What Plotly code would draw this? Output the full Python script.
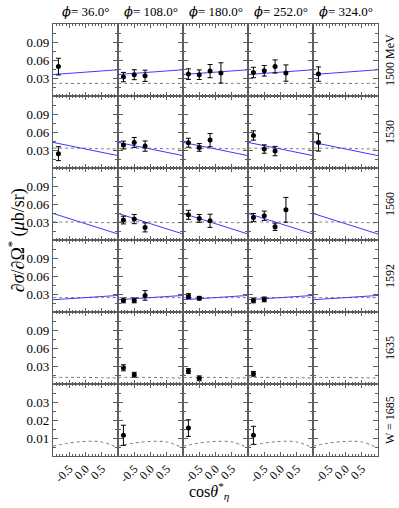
import plotly.graph_objects as go
from plotly.subplots import make_subplots

# --- data ---
phi_deg = [36.0, 108.0, 180.0, 252.0, 324.0]
row_labels = ["1500 MeV", "1530", "1560", "1592", "1635", "W = 1685"]
cos_bins = [-0.833, -0.5, -0.167, 0.167]

# measured cross sections per row, one list per phi column
sig_1500 = [[0.049], [0.0315, 0.0355, 0.0337], [0.0365, 0.0355, 0.0415, 0.0385],
            [0.0392, 0.042, 0.0492, 0.0382], [0.0365]]
err_1500 = [[0.0139], [0.0078, 0.0083, 0.0094], [0.0088, 0.008, 0.011, 0.0169],
            [0.0087, 0.0088, 0.011, 0.0136], [0.012]]
sig_1530 = [[0.0239], [0.0382, 0.0426, 0.0365], [0.0421, 0.0343, 0.0465],
            [0.0542, 0.0316, 0.0282], [0.0426]]
err_1530 = [[0.0116], [0.0066, 0.0083, 0.0086], [0.0075, 0.0064, 0.011],
            [0.0078, 0.007, 0.0078], [0.0144]]
sig_1560 = [[], [0.0332, 0.0349, 0.021], [0.042, 0.036, 0.032],
            [0.0376, 0.0404, 0.022, 0.0503], []]
err_1560 = [[], [0.0064, 0.0077, 0.0075], [0.0075, 0.0065, 0.011],
            [0.0066, 0.0077, 0.006, 0.0207], []]
sig_1592 = [[], [0.0193, 0.0193, 0.0276], [0.0265, 0.023], [0.0193, 0.021], []]
err_1592 = [[], [0.004, 0.004, 0.008], [0.004, 0.003], [0.004, 0.004], []]
sig_1635 = [[], [0.027, 0.0155], [0.0216, 0.0095], [0.017], []]
err_1635 = [[], [0.005, 0.004], [0.004, 0.004], [0.004], []]
sig_1685 = [[], [0.0115], [0.0155], [0.0115], []]
err_1685 = [[], [0.0056], [0.0046], [0.005], []]

sig_rows = [sig_1500, sig_1530, sig_1560, sig_1592, sig_1635, sig_1685]
err_rows = [err_1500, err_1530, err_1560, err_1592, err_1635, err_1685]

# model curves (same in every phi column)
blue_cos = [-1.0, 1.0]
blue_rows = [[0.0358, 0.0437], [0.0427, 0.0206], [0.0443, 0.010], [0.0204, 0.0276], None, None]
dash_cos = [-1.0, -0.5, 0.0, 0.5, 1.0]
dash_rows = [
    [0.021, 0.021, 0.021, 0.021, 0.021],
    [0.033, 0.033, 0.033, 0.032, 0.032],
    [0.030, 0.030, 0.030, 0.029, 0.029],
    [0.024, 0.024, 0.024, 0.024, 0.024],
    [0.011, 0.011, 0.011, 0.0105, 0.010],
    [0.0055, 0.0072, 0.0081, 0.0078, 0.0045],
]

serif = "Liberation Serif, Times New Roman, serif"
frame_col = "#5e5e5e"

fig = make_subplots(rows=6, cols=5, horizontal_spacing=0, vertical_spacing=0)

for r in range(6):
    for c in range(5):
        fig.add_trace(go.Scatter(x=dash_cos, y=dash_rows[r], mode="lines",
                                 line=dict(color="#777777", width=1, dash="3px,3px",
                                           shape="spline"),
                                 hoverinfo="skip", showlegend=False), row=r + 1, col=c + 1)
        if blue_rows[r] is not None:
            fig.add_trace(go.Scatter(x=blue_cos, y=blue_rows[r], mode="lines",
                                     line=dict(color="#3a3aff", width=1),
                                     showlegend=False), row=r + 1, col=c + 1)
        vals = sig_rows[r][c]
        if vals:
            fig.add_trace(go.Scatter(
                x=cos_bins[:len(vals)], y=vals, mode="markers",
                marker=dict(color="black", size=5),
                error_y=dict(type="data", array=err_rows[r][c], color="black",
                             thickness=1, width=2.5),
                showlegend=False), row=r + 1, col=c + 1)

        last = r == 5
        fig.update_xaxes(
            range=[-1, 1], showgrid=False, zeroline=False, automargin=False,
            showline=True, linecolor=frame_col, linewidth=1.2, mirror="allticks",
            ticks="inside", ticklen=4, tickcolor=frame_col,
            tickvals=[-0.5, 0.0, 0.5], ticktext=["-0.5", "0.0", "0.5"],
            minor=dict(tick0=-1, dtick=0.1, ticks="inside", ticklen=2, tickcolor=frame_col),
            showticklabels=last, tickangle=-45,
            tickfont=dict(family=serif, size=12, color="black"),
            row=r + 1, col=c + 1)
        if last:
            yr, yt, ym = [0, 0.04], [0.01, 0.02, 0.03], 0.005
        else:
            yr, yt, ym = [0, 0.12], [0.03, 0.06, 0.09], 0.015
        fig.update_yaxes(
            range=yr, showgrid=False, zeroline=False, automargin=False,
            showline=True, linecolor=frame_col, linewidth=1.2, mirror="allticks",
            ticks="inside", ticklen=5, tickcolor=frame_col,
            tickvals=yt, tickformat=".2f",
            minor=dict(tick0=0, dtick=ym, ticks="inside", ticklen=3, tickcolor=frame_col),
            showticklabels=(c == 0),
            tickfont=dict(family=serif, size=13, color="black"),
            row=r + 1, col=c + 1)

annotations = []
for c, p in enumerate(phi_deg):
    annotations.append(dict(
        text=f"<span style='font-family:DejaVu Serif'><i>ϕ</i></span>= {p:.1f}°",
        xref="paper", yref="paper",
        x=(c + 0.5) / 5, y=1.028, xanchor="center", yanchor="middle",
        showarrow=False, font=dict(family=serif, size=13, color="black")))
for r, lab in enumerate(row_labels):
    annotations.append(dict(text=lab, xref="paper", yref="paper", x=1.037,
                            y=1 - (r + 0.5) / 6, xanchor="center", yanchor="middle",
                            textangle=-90, showarrow=False,
                            font=dict(family=serif, size=12, color="black")))
annotations.append(dict(text="∂<i>σ</i>/∂Ω<sup>*</sup> (<i>μ</i>b/sr)", xref="paper",
                        yref="paper", x=-0.11, y=0.5, xanchor="center", yanchor="middle",
                        textangle=-90, showarrow=False,
                        font=dict(family=serif, size=18, color="black")))
annotations.append(dict(text="cos<i>θ</i><sup>*</sup><sub><i>η</i></sub>", xref="paper",
                        yref="paper", x=0.48, y=-0.08, xanchor="center", yanchor="middle",
                        showarrow=False,
                        font=dict(family=serif, size=16, color="black")))

fig.update_layout(
    width=399, height=508,
    font=dict(family=serif, color="black"),
    margin=dict(l=53, r=21, t=24, b=52),
    paper_bgcolor="white", plot_bgcolor="white",
    annotations=annotations,
    showlegend=False,
)

fig.write_html("out.html", config={"displayModeBar": False},
               post_script="document.body.style.margin='0';")
